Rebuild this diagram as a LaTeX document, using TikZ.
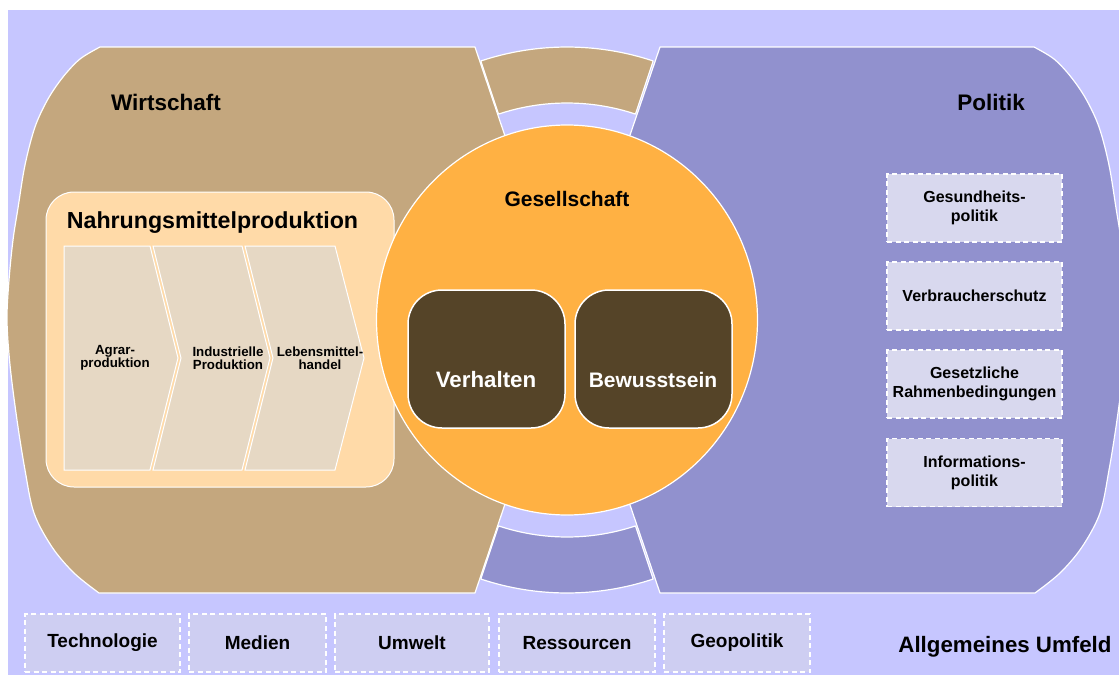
\documentclass[tikz,border=0pt]{standalone}
\usepackage{fontspec}
\setmainfont{Liberation Sans}
\usetikzlibrary{shapes.geometric}
\definecolor{bgblue}{RGB}{198,198,255}
\definecolor{tanc}{RGB}{196,167,126}
\definecolor{purp}{RGB}{145,145,206}
\definecolor{orng}{RGB}{255,177,67}
\definecolor{dbrown}{RGB}{85,68,40}
\definecolor{peach}{RGB}{255,218,168}
\definecolor{chev}{RGB}{230,216,196}
\definecolor{pbox}{RGB}{216,216,238}
\definecolor{ubox}{RGB}{206,206,242}
\tikzset{
  region/.style={draw=white, line width=1.2pt, line join=round},
  chevron/.style={fill=chev, draw=white, line width=1pt},
  dbox/.style={draw=white, line width=1.5pt, fill=dbrown, rounded corners=34pt, minimum width=157pt, minimum height=138pt, inner sep=0pt},
  dashbox/.style={draw=white, line width=1.2pt, dash pattern=on 5pt off 3.5pt, inner sep=0pt, align=center},
  ptxt/.style={font=\bfseries\fontsize{16}{19}\selectfont, align=center},
  utxt/.style={font=\bfseries\fontsize{19}{22}\selectfont},
  bigtxt/.style={font=\bfseries\fontsize{22.5}{26}\selectfont},
  chtxt/.style={font=\bfseries\fontsize{13.3}{13.5}\selectfont, align=center},
}
\begin{document}
\begin{tikzpicture}[x=1pt,y=1pt]
\useasboundingbox (0,0) rectangle (1119,-675);
\fill[white] (0,0) rectangle (1119,-675);
\fill[bgblue] (7.5,-9.5) rectangle (1119,-675);
\coordinate (C) at (567,-320);

% Wirtschaft region
\path[region, fill=tanc] (100,-47) -- (475,-47) -- (C) -- (475,-593) -- (99,-593)
  -- plot[smooth, tension=0.55] coordinates {(99,-593) (74,-573) (52,-547) (34,-513) (25,-470) (17,-420) (10,-365) (7,-320) (9,-280) (13,-240) (18,-208) (25,-165) (35,-127) (48,-99) (63,-77) (80,-59) (100,-47)} -- cycle;

% Politik region
\path[region, fill=purp] (660,-47) -- (1034,-47)
  -- plot[smooth, tension=0.55] coordinates {(1034,-47) (1054,-59) (1071,-77) (1086,-99) (1099,-127) (1109,-165) (1116,-208) (1121,-240) (1125,-280) (1127,-320) (1124,-365) (1117,-420) (1109,-470) (1100,-513) (1082,-547) (1060,-573) (1035,-593)}
  -- (660,-593) -- (C) -- cycle;

% arc pieces
\path[region, fill=tanc] ([shift={(C)}]71.6:217) arc (71.6:108.4:217) -- ([shift={(C)}]108.4:273) arc (108.4:71.6:273) -- cycle;
\path[region, fill=purp] ([shift={(C)}]-71.6:217) arc (-71.6:-108.4:217) -- ([shift={(C)}]-108.4:273) arc (-108.4:-71.6:273) -- cycle;

% Nahrungsmittelproduktion box
\node[draw=white, line width=1pt, fill=peach, rounded corners=28pt, minimum width=348pt, minimum height=295pt, inner sep=0pt] (nbox) at (220,-339.5) {};
\node[bigtxt, font=\bfseries\fontsize{23.2}{26}\selectfont] (ntitle) at (212.5,-223) {Nahrungsmittelproduktion};

\path[chevron] (64,-246) -- (150,-246) -- (178,-358) -- (150,-470) -- (64,-470) -- cycle;
\path[chevron] (153,-246) -- (242,-246) -- (270,-358) -- (242,-470) -- (153,-470) -- (181,-358) -- cycle;
\path[chevron] (245,-246) -- (335,-246) -- (364,-358) -- (335,-470) -- (245,-470) -- (273,-358) -- cycle;
\node[chtxt] (agrar) at (115,-358) {Agrar-\\produktion};
\node[chtxt] (indus) at (228,-358) {Industrielle\\Produktion};
\node[chtxt] (handel) at (320,-358) {Lebensmittel-\\handel};

% Gesellschaft circle
\node[draw=white, line width=1.2pt, fill=orng, ellipse, minimum width=381pt, minimum height=390pt, inner sep=0pt] (ges) at (C) {};
\node[bigtxt, font=\bfseries\fontsize{21}{25}\selectfont] (gestxt) at (567,-199) {Gesellschaft};

\node[dbox] (verh) at (486.5,-359) {};
\node[dbox] (bew) at (653.5,-359) {};
\node[bigtxt, font=\bfseries\fontsize{22.3}{25}\selectfont, text=white] (verhtxt) at (486,-380) {Verhalten};
\node[bigtxt, font=\bfseries\fontsize{21}{25}\selectfont, text=white] (bewtxt) at (653,-380) {Bewusstsein};

% labels
\node[bigtxt] (wirt) at (166,-102) {Wirtschaft};
\node[bigtxt] (pol) at (991,-102) {Politik};

% Politik boxes
\node[dashbox, fill=pbox, minimum width=175pt, minimum height=68pt] (p1) at (974.5,-208) {};
\node[dashbox, fill=pbox, minimum width=175pt, minimum height=68pt] (p2) at (974.5,-296) {};
\node[dashbox, fill=pbox, minimum width=175pt, minimum height=68pt] (p3) at (974.5,-384) {};
\node[dashbox, fill=pbox, minimum width=175pt, minimum height=68pt] (p4) at (974.5,-472.5) {};
\node[ptxt] (p1t) at (p1) {Gesundheits-\\politik};
\node[ptxt] (p2t) at (p2) {Verbraucherschutz};
\node[ptxt] (p3t) at (p3) {Gesetzliche\\Rahmenbedingungen};
\node[ptxt] (p4t) at (p4) {Informations-\\politik};

% Umfeld boxes
\node[dashbox, fill=ubox, minimum width=155pt, minimum height=58pt] (u1) at (102.5,-643) {};
\node[dashbox, fill=ubox, minimum width=137pt, minimum height=58pt] (u2) at (257.5,-643) {};
\node[dashbox, fill=ubox, minimum width=154pt, minimum height=58pt] (u3) at (412,-643) {};
\node[dashbox, fill=ubox, minimum width=156pt, minimum height=58pt] (u4) at (577,-643) {};
\node[dashbox, fill=ubox, minimum width=146pt, minimum height=58pt] (u5) at (737,-643) {};
\node[utxt] (u1t) at (u1) {Technologie};
\node[utxt] (u2t) at (u2) {Medien};
\node[utxt] (u3t) at (u3) {Umwelt};
\node[utxt] (u4t) at (u4) {Ressourcen};
\node[utxt] (u5t) at (u5) {Geopolitik};
\node[bigtxt, font=\bfseries\fontsize{22.3}{26}\selectfont] (umfeld) at (1005,-647) {Allgemeines Umfeld};
\end{tikzpicture}
\end{document}
